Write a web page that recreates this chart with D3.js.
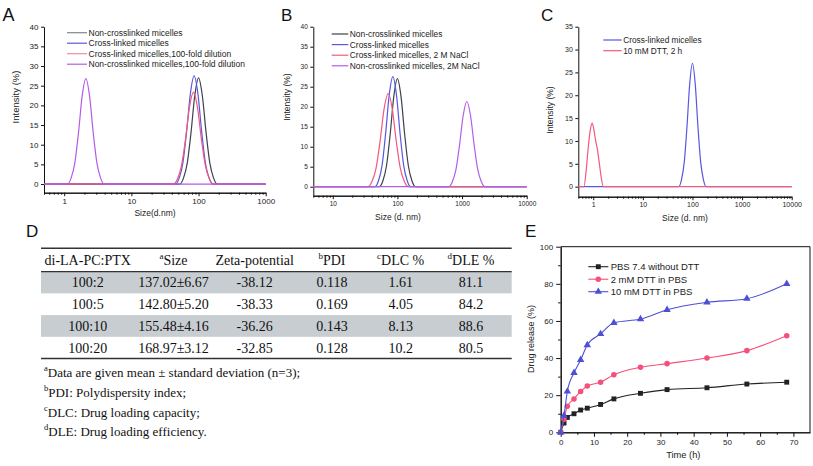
<!DOCTYPE html>
<html><head><meta charset="utf-8">
<script src="https://cdn.jsdelivr.net/npm/d3@7"></script>
<style>body{margin:0;background:#fff}svg{display:block}</style>
</head><body><svg id="fig" width="813" height="466"></svg>
<script>
// ---------- DATA ----------
// Panel A (DLS, size in d.nm vs intensity %)
const aNonX = [52.4, 59.7, 67.9, 77.3, 87.9, 100, 113.8, 129.5, 147.4, 167.7, 190.8];
const aNonY = [0, 1.5, 5.3, 13.1, 22.5, 27, 22.5, 13.1, 5.3, 1.5, 0];
const aCrossX = [45.3, 51.5, 58.5, 66.5, 75.6, 86, 97.8, 111.2, 126.4, 143.7, 163.4];
const aCrossY = [0, 1.5, 5.4, 13.4, 23, 27.5, 23, 13.4, 5.4, 1.5, 0];
const aCrossDilX = [42.3, 48.5, 55.6, 63.8, 73.2, 84, 96.4, 110.5, 126.7, 145.4, 166.8];
const aCrossDilY = [0, 1.3, 4.6, 11.3, 19.5, 23.3, 19.5, 11.3, 4.6, 1.3, 0];
const aNonDilX = [1.115, 1.266, 1.437, 1.631, 1.851, 2.1, 2.384, 2.705, 3.07, 3.485, 3.955];
const aNonDilY = [0, 1.5, 5.3, 13, 22.4, 26.8, 22.4, 13, 5.3, 1.5, 0];
const aLegend = ["Non-crosslinked micelles", "Cross-linked micelles", "Cross-linked micelles,100-fold dilution", "Non-crosslinked micelles,100-fold dilution"];
const aXTicks = [1, 10, 100, 1000];
const aYTicks = [0, 5, 10, 15, 20, 25, 30, 35, 40];

// Panel B
const bNonX = [52.4, 59.7, 67.9, 77.3, 87.9, 100, 113.8, 129.5, 147.4, 167.7, 190.8];
const bNonY = [0, 1.5, 5.3, 13.1, 22.5, 27, 22.5, 13.1, 5.3, 1.5, 0];
const bCrossX = [44.8, 51, 58, 65.8, 74.8, 85, 96.6, 109.8, 124.8, 141.8, 161.2];
const bCrossY = [0, 1.5, 5.4, 13.4, 23, 27.5, 23, 13.4, 5.4, 1.5, 0];
const bCrossNaClX = [35.0, 40.4, 46.7, 53.9, 62.3, 72, 83.2, 96.1, 111, 128.2, 148];
const bCrossNaClY = [0, 1.3, 4.6, 11.3, 19.5, 23.3, 19.5, 11.3, 4.6, 1.3, 0];
const bNonNaClX = [619, 705, 803, 914, 1041, 1186, 1351, 1539, 1753, 1996, 2273];
const bNonNaClY = [0, 1.2, 4.2, 10.4, 17.8, 21.3, 17.8, 10.4, 4.2, 1.2, 0];
const bLegend = ["Non-crosslinked micelles", "Cross-linked micelles", "Cross-linked micelles, 2 M NaCl", "Non-crosslinked micelles, 2M NaCl"];
const bXTicks = [10, 100, 1000, 10000];
const bYTicks = [0, 5, 10, 15, 20, 25, 30, 35, 40];

// Panel C
const cCrossX = [52.9, 60, 68.2, 77.5, 88, 100, 113.6, 129, 146.6, 166.5, 189.2];
const cCrossY = [0, 1.5, 5.3, 13.1, 22.5, 27, 22.5, 13.1, 5.3, 1.5, 0];
const cDttX = [0.65, 0.72, 0.79, 0.87, 0.95, 1.03, 1.12, 1.22, 1.33, 1.46, 1.6];
const cDttY = [0, 3.5, 8.4, 12.3, 13.9, 12.5, 10, 8, 5, 1.8, 0];
const cLegend = ["Cross-linked micelles", "10 mM DTT, 2 h"];
const cXTicks = [1, 10, 100, 1000, 10000];
const cYTicks = [0, 5, 10, 15, 20, 25, 30, 35];

// Panel D (table)
const tHeader = [["", "di-LA-PC:PTX"], ["a", "Size"], ["", "Zeta-potential"], ["b", "PDI"], ["c", "DLC %"], ["d", "DLE %"]];
const tRatio = ["100:2", "100:5", "100:10", "100:20"];
const tSize = ["137.02±6.67", "142.80±5.20", "155.48±4.16", "168.97±3.12"];
const tZeta = ["-38.12", "-38.33", "-36.26", "-32.85"];
const tPDI = ["0.118", "0.169", "0.143", "0.128"];
const tDLC = ["1.61", "4.05", "8.13", "10.2"];
const tDLE = ["81.1", "84.2", "88.6", "80.5"];
const tNotes = [["a", "Data are given mean ± standard deviation (n=3);"], ["b", "PDI: Polydispersity index;"], ["c", "DLC: Drug loading capacity;"], ["d", "DLE: Drug loading efficiency."]];

// Panel E (drug release)
const eTime = [0, 1, 2, 4, 6, 8, 12, 16, 24, 32, 44, 56, 68];
const ePBS = [0, 5, 8, 10, 12, 13, 15, 18, 21, 23, 24, 26, 27];
const eDTT2 = [0, 7, 14, 18, 22, 25, 27, 31, 35, 37, 40, 44, 52];
const eDTT10 = [0, 9, 22, 32, 39, 47, 53, 59, 61, 66, 70, 72, 80];
const eLegend = ["PBS 7.4 without DTT", "2 mM DTT in PBS", "10 mM DTT in PBS"];
const eXTicks = [0, 10, 20, 30, 40, 50, 60, 70];
const eYTicks = [0, 20, 40, 60, 80, 100];

// ---------- DRAWING ----------
const SANS = "'Liberation Sans', Arial, sans-serif";
const SERIF = "'Liberation Serif', 'Times New Roman', serif";
const C_NON = "#3a424d", C_CROSS = "#5858de", C_RED = "#f4577f", C_PURP = "#b35de6";
const svg = d3.select("#fig");
svg.append("rect").attr("width", 813).attr("height", 466).attr("fill", "#fff");

function panelLabel(t, x, y, fs) {
  svg.append("text").attr("x", x).attr("y", y).text(t)
    .attr("font-family", SANS).attr("font-size", fs).attr("fill", "#111");
}

function styleAxis(sel, fs) {
  sel.selectAll("path,line").attr("stroke", "#111").attr("stroke-width", 1);
  sel.selectAll("text").attr("font-family", SANS).attr("font-size", fs).attr("fill", "#222");
}

function zip(xs, ys) { return xs.map((v, i) => [v, ys[i]]); }

function dlsPanel(o) {
  const g = svg.append("g");
  const x = d3.scaleLog().domain(o.xDom).range(o.xRange);
  const y = d3.scaleLinear().domain(o.yDom).range(o.yRange);
  const y0 = o.yRange[0];
  const minor = [];
  for (let e = -1; e <= 4; e++) for (let k = 2; k <= 9; k++) {
    const v = k * Math.pow(10, e);
    if (v >= o.xDom[0] && v <= o.xDom[1]) minor.push(v);
  }
  const gxm = g.append("g").attr("transform", `translate(0,${y0})`)
    .call(d3.axisBottom(x).tickValues(minor).tickSize(2).tickSizeOuter(0).tickFormat(""));
  styleAxis(gxm, o.tickFs);
  const gx = g.append("g").attr("transform", `translate(0,${y0})`)
    .call(d3.axisBottom(x).tickValues(o.xTicks).tickSize(3.5).tickSizeOuter(0).tickFormat(d3.format("d")).tickPadding(2));
  styleAxis(gx, o.tickFs);
  const gy = g.append("g").attr("transform", `translate(${o.xRange[0]},0)`)
    .call(d3.axisLeft(y).tickValues(o.yTicks).tickSize(3).tickSizeOuter(0).tickPadding(2.5));
  styleAxis(gy, o.tickFs);
  g.append("text").attr("x", o.xTitle[0]).attr("y", o.xTitle[1]).attr("text-anchor", "middle")
    .attr("font-family", SANS).attr("font-size", o.titleFs).attr("fill", "#222").text(o.xLabel);
  g.append("text").attr("transform", `translate(${o.yTitle[0]},${o.yTitle[1]}) rotate(-90)`).attr("text-anchor", "middle")
    .attr("font-family", SANS).attr("font-size", o.yTitleFs).attr("fill", "#222").text("Intensity (%)");
  const line = d3.line().x(d => x(d[0])).y(d => y(d[1])).curve(d3.curveMonotoneX);
  o.series.forEach(s => {
    const pts = [[o.xDom[0], 0]].concat(zip(s.xs, s.ys)).concat([[o.xDom[1], 0]]);
    g.append("path").attr("d", line(pts)).attr("fill", "none").attr("stroke", s.color).attr("stroke-width", 1.2);
  });
  o.legend.forEach((t, i) => {
    const ly = o.legPos.y + i * o.legPos.dy;
    g.append("line").attr("x1", o.legPos.x1).attr("x2", o.legPos.x2).attr("y1", ly).attr("y2", ly)
      .attr("stroke", o.legColors[i]).attr("stroke-width", 1.2);
    g.append("text").attr("x", o.legPos.x2 + 1.5).attr("y", ly).attr("dy", "0.35em")
      .attr("font-family", SANS).attr("font-size", o.legFs).attr("fill", "#222").text(t);
  });
}

// Panel A
panelLabel("A", 2.5, 20.5, 18);
dlsPanel({
  xDom: [0.5, 1000], xRange: [44, 265.7], yDom: [-2.2, 40], yRange: [192.7, 26.7],
  xTicks: aXTicks, yTicks: aYTicks, tickFs: 8, titleFs: 8.5, yTitleFs: 9.5,
  xLabel: "Size(d.nm)", xTitle: [155, 216], yTitle: [18.5, 97],
  series: [
    { xs: aNonX, ys: aNonY, color: C_NON },
    { xs: aCrossX, ys: aCrossY, color: C_CROSS },
    { xs: aCrossDilX, ys: aCrossDilY, color: C_RED },
    { xs: aNonDilX, ys: aNonDilY, color: C_PURP }
  ],
  legend: aLegend, legColors: ["#80868c", C_CROSS, "#f58aa5", C_PURP],
  legPos: { x1: 67, x2: 87, y: 32.7, dy: 10.5 }, legFs: 8.5
});

// Panel B
panelLabel("B", 281, 20.5, 17);
dlsPanel({
  xDom: [5, 10000], xRange: [313.3, 526.7], yDom: [-2.25, 40], yRange: [195.7, 26.7],
  xTicks: bXTicks, yTicks: bYTicks, tickFs: 6.5, titleFs: 8.5, yTitleFs: 8.5,
  xLabel: "Size (d. nm)", xTitle: [398, 219.5], yTitle: [289.7, 97],
  series: [
    { xs: bNonX, ys: bNonY, color: C_NON },
    { xs: bCrossX, ys: bCrossY, color: C_CROSS },
    { xs: bCrossNaClX, ys: bCrossNaClY, color: C_RED },
    { xs: bNonNaClX, ys: bNonNaClY, color: C_PURP }
  ],
  legend: bLegend, legColors: [C_NON, C_CROSS, C_RED, C_PURP],
  legPos: { x1: 331.7, x2: 348.3, y: 34, dy: 10.6 }, legFs: 8.4
});

// Panel C
panelLabel("C", 541, 20.5, 17);
dlsPanel({
  xDom: [0.5, 10000], xRange: [578.3, 791.7], yDom: [-2.2, 35], yRange: [196.7, 26.7],
  xTicks: cXTicks, yTicks: cYTicks, tickFs: 7, titleFs: 8.5, yTitleFs: 8.5,
  xLabel: "Size (d. nm)", xTitle: [685, 221], yTitle: [553, 110],
  series: [
    { xs: cCrossX, ys: cCrossY, color: C_CROSS },
    { xs: cDttX, ys: cDttY, color: C_RED }
  ],
  legend: cLegend, legColors: [C_CROSS, C_RED],
  legPos: { x1: 603.3, x2: 621.7, y: 40, dy: 10.7 }, legFs: 8.3
});

// Panel D: table
panelLabel("D", 26, 237, 17);
(function () {
  const g = svg.append("g");
  const left = 41, right = 511.7;
  const colX = [87.7, 173.5, 254.7, 332, 400.7, 471];
  const rowTop = [271.7, 293.4, 315.1, 336.8];
  const rowH = 21.7;
  const fs = 14;
  [0, 2].forEach(i => g.append("rect").attr("x", left).attr("y", rowTop[i]).attr("width", right - left).attr("height", rowH).attr("fill", "#c7cdd1"));
  g.append("line").attr("x1", left).attr("x2", right).attr("y1", 248.3).attr("y2", 248.3).attr("stroke", "#333").attr("stroke-width", 1.6);
  g.append("line").attr("x1", left).attr("x2", right).attr("y1", 271.7).attr("y2", 271.7).attr("stroke", "#333").attr("stroke-width", 1.2);
  g.append("line").attr("x1", left).attr("x2", right).attr("y1", 358.5).attr("y2", 358.5).attr("stroke", "#333").attr("stroke-width", 1.6);
  tHeader.forEach((h, j) => {
    const t = g.append("text").attr("x", colX[j]).attr("y", 260).attr("dy", "0.35em").attr("text-anchor", "middle")
      .attr("font-family", SERIF).attr("font-size", fs).attr("fill", "#111");
    if (h[0]) { t.append("tspan").attr("font-size", 9).attr("dy", "-0.1em").text(h[0]); t.append("tspan").attr("dy", "0.45em").text(h[1]); }
    else t.text(h[1]);
  });
  const cols = [tRatio, tSize, tZeta, tPDI, tDLC, tDLE];
  cols.forEach((col, j) => col.forEach((v, i) => {
    g.append("text").attr("x", colX[j]).attr("y", rowTop[i] + rowH / 2).attr("dy", "0.35em").attr("text-anchor", "middle")
      .attr("font-family", SERIF).attr("font-size", fs).attr("fill", "#111").text(v);
  }));
  const noteY = [372.3, 391.7, 411.7, 431];
  tNotes.forEach((n, i) => {
    const t = g.append("text").attr("x", 44).attr("y", noteY[i]).attr("dy", "0.35em")
      .attr("font-family", SERIF).attr("font-size", 13).attr("fill", "#111");
    t.append("tspan").attr("font-size", 8.5).attr("dy", "-0.1em").text(n[0]);
    t.append("tspan").attr("dy", "0.45em").text(n[1]);
  });
})();

// Panel E
panelLabel("E", 525, 237, 17);
(function () {
  const g = svg.append("g");
  const x = d3.scaleLinear().domain([0, 75]).range([560.7, 810]);
  const y = d3.scaleLinear().domain([0, 100]).range([432.3, 246.7]);
  const minorX = d3.range(5, 75, 10), minorY = d3.range(10, 100, 20);
  const gxm = g.append("g").attr("transform", "translate(0,432.3)").call(d3.axisBottom(x).tickValues(minorX).tickSize(2.5).tickSizeOuter(0).tickFormat(""));
  styleAxis(gxm, 8);
  const gym = g.append("g").attr("transform", "translate(560.7,0)").call(d3.axisLeft(y).tickValues(minorY).tickSize(2.5).tickSizeOuter(0).tickFormat(""));
  styleAxis(gym, 8);
  const gx = g.append("g").attr("transform", "translate(0,432.3)").call(d3.axisBottom(x).tickValues(eXTicks).tickSize(4.5).tickSizeOuter(0).tickPadding(3));
  styleAxis(gx, 8);
  const gy = g.append("g").attr("transform", "translate(560.7,0)").call(d3.axisLeft(y).tickValues(eYTicks).tickSize(4.5).tickSizeOuter(0).tickPadding(3));
  styleAxis(gy, 8);
  g.append("line").attr("x1", 560.7).attr("x2", 810).attr("y1", 246.7).attr("y2", 246.7).attr("stroke", "#111");
  g.append("line").attr("x1", 810).attr("x2", 810).attr("y1", 246.7).attr("y2", 432.3).attr("stroke", "#111");
  g.append("text").attr("x", 683.3).attr("y", 458).attr("text-anchor", "middle").attr("font-family", SANS).attr("font-size", 9.3).attr("fill", "#222").text("Time (h)");
  g.append("text").attr("transform", "translate(534,339) rotate(-90)").attr("text-anchor", "middle").attr("font-family", SANS).attr("font-size", 9).attr("fill", "#222").text("Drug release (%)");
  const series = [
    { ys: ePBS, color: "#222", sym: d3.symbolSquare, size: 24 },
    { ys: eDTT2, color: "#f4507a", sym: d3.symbolCircle, size: 24 },
    { ys: eDTT10, color: "#4d50d6", sym: d3.symbolTriangle, size: 24 }
  ];
  const line = d3.line().x(d => x(d[0])).y(d => y(d[1])).curve(d3.curveMonotoneX);
  series.forEach(s => {
    const pts = zip(eTime, s.ys);
    g.append("path").attr("d", line(pts)).attr("fill", "none").attr("stroke", s.color).attr("stroke-width", 1.1);
    g.selectAll(null).data(pts).enter().append("path")
      .attr("transform", d => `translate(${x(d[0])},${y(d[1])})`)
      .attr("d", d3.symbol().type(s.sym).size(s.size)).attr("fill", s.color);
  });
  series.forEach((s, i) => {
    const ly = 266.7 + i * 12.5;
    g.append("line").attr("x1", 588.3).attr("x2", 608.3).attr("y1", ly).attr("y2", ly).attr("stroke", s.color).attr("stroke-width", 1.1);
    g.append("path").attr("transform", `translate(598.3,${ly})`).attr("d", d3.symbol().type(s.sym).size(s.size)).attr("fill", s.color);
    g.append("text").attr("x", 610.7).attr("y", ly).attr("dy", "0.35em").attr("font-family", SANS).attr("font-size", 9.5).attr("fill", "#222").text(eLegend[i]);
  });
})();
</script></body></html>
